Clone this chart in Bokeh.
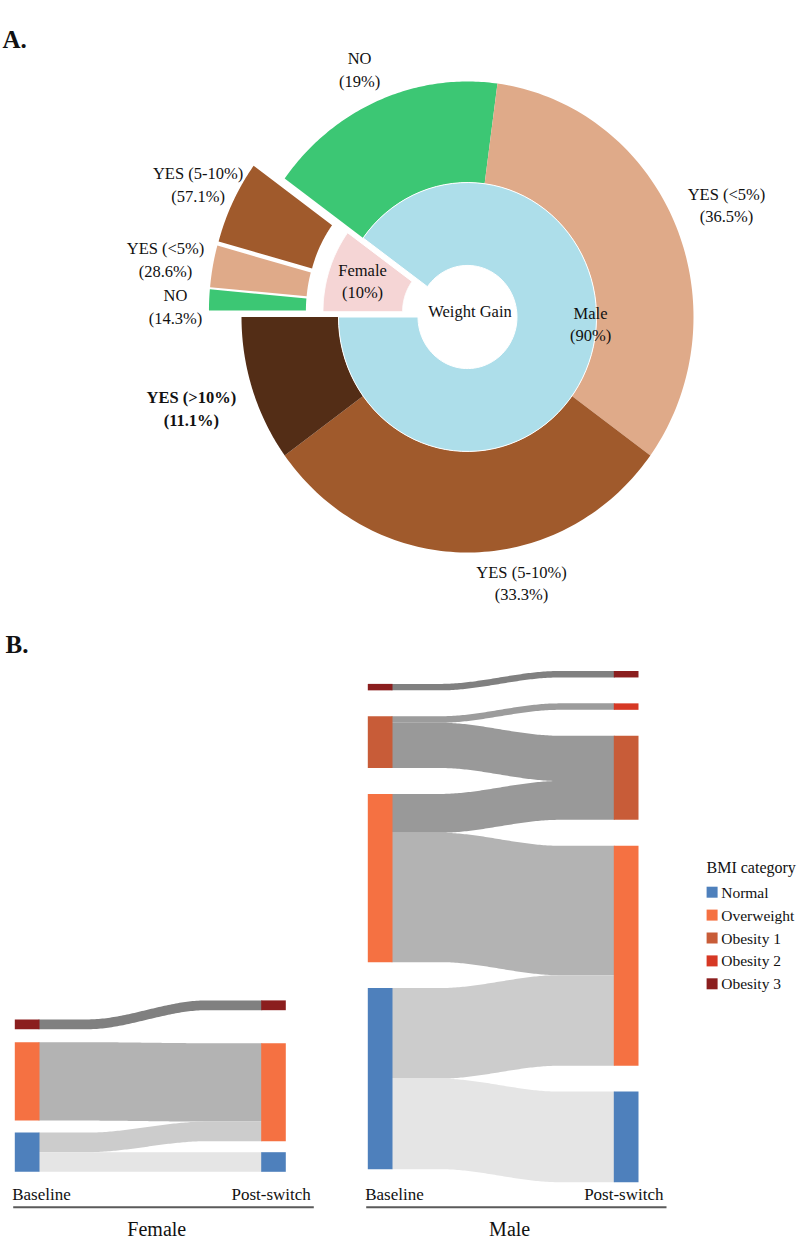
import numpy as np
from bokeh.plotting import figure
from bokeh.models import Range1d
from bokeh.core.properties import value
from bokeh.embed import file_html
from bokeh.resources import INLINE

# ===================== DATA =====================
# Panel A: weight gain by sex (nested donut)
sex_groups = ["Female", "Male"]
sex_pct = [10, 90]
center_label = "Weight Gain"

female_gain_cat = ["NO", "YES (<5%)", "YES (5-10%)"]
female_gain_pct = [14.3, 28.6, 57.1]
male_gain_cat = ["NO", "YES (<5%)", "YES (5-10%)", "YES (>10%)"]
male_gain_pct = [19.0, 36.5, 33.3, 11.1]

# Panel B: BMI category baseline -> post-switch (alluvial)
bmi_levels = ["Normal", "Overweight", "Obesity 1", "Obesity 2", "Obesity 3"]
stage_labels = ["Baseline", "Post-switch"]

female_from = ["Obesity 3", "Overweight", "Normal", "Normal"]
female_to = ["Obesity 3", "Overweight", "Overweight", "Normal"]
female_n = [1, 8, 2, 2]

male_from = ["Obesity 3", "Obesity 1", "Obesity 1", "Overweight", "Overweight", "Normal", "Normal"]
male_to = ["Obesity 3", "Obesity 2", "Obesity 1", "Obesity 1", "Overweight", "Overweight", "Normal"]
male_n = [1, 1, 7, 6, 20, 14, 14]

# ===================== STYLE / LAYOUT =====================
FONT = "Liberation Serif"
TXT = "#111111"
W, H = 797, 1238

GAIN_COLORS = {"NO": "#3cc774", "YES (<5%)": "#dfaa89",
               "YES (5-10%)": "#a05a2c", "YES (>10%)": "#532d16"}
SEX_COLORS = {"Female": "#f5d5d5", "Male": "#addeea"}
BMI_COLORS = {"Normal": "#4e80bc", "Overweight": "#f57142", "Obesity 1": "#c85c38",
              "Obesity 2": "#d63824", "Obesity 3": "#8b1e1e"}
FLOW_COLORS = {("Obesity 3", "Obesity 3"): "#808080",
               ("Obesity 1", "Obesity 2"): "#9c9c9c",
               ("Obesity 1", "Obesity 1"): "#999999",
               ("Overweight", "Obesity 1"): "#999999",
               ("Overweight", "Overweight"): "#b3b3b3",
               ("Normal", "Overweight"): "#cccccc",
               ("Normal", "Normal"): "#e5e5e5"}

# donut geometry (px)
CX, CY = 467.0, 316.5
SX, SY = 226.0, 235.5
R_HOLE, R_MID, R_OUT = 0.219, 0.571, 1.0
START_ANGLE = 180.0
EXPLODE_INNER = 0.072
EXPLODE_GROUP = 0.08
EXPLODE_SLICE = 0.068
LABEL_R = 1.16
INNER_LABEL_R = 0.4165
LINE_SP = 22.5
LBL_SIZE = 16.5
FEMALE_NUDGE = [(2.4, 8.7), (-11.7, 0.5), (-2.2, -0.6)]
MALE_NUDGE = [(-4.7, 4.1), (18.0, -3.9), (54.0, -6.7), (-26.8, 7.5)]
SEX_NUDGE = [(0.0, 0.0), (33.5, -22.8)]

p = figure(width=W, height=H, x_range=Range1d(0, W), y_range=Range1d(H, 0),
           output_backend="svg", toolbar_location=None,
           x_axis_type=None, y_axis_type=None, min_border=0)
p.outline_line_color = None
p.background_fill_color = "white"
p.border_fill_color = "white"
p.grid.visible = False


def put_text(x, y, s, size=16, bold=False, align="center"):
    lines = s.split("\n")
    n = len(lines)
    ys = [y + (i - (n - 1) / 2) * LINE_SP for i in range(n)]
    p.text(x=[x] * n, y=ys, text=lines, text_font=value(FONT),
           text_font_size=f"{size}px", text_font_style="bold" if bold else "normal",
           text_align=align, text_baseline="middle", text_color=TXT)


def offset(d, ang):
    a = np.radians(ang)
    return SX * d * np.cos(a), -SY * d * np.sin(a)


def wedge(a0, a1, r0, r1, ox=0.0, oy=0.0):
    t = np.radians(np.linspace(a0, a1, 90))
    xo = CX + ox + SX * r1 * np.cos(t)
    yo = CY + oy - SY * r1 * np.sin(t)
    xi = CX + ox + SX * r0 * np.cos(t[::-1])
    yi = CY + oy - SY * r0 * np.sin(t[::-1])
    return list(np.concatenate([xo, xi])), list(np.concatenate([yo, yi]))


# ---- Panel A ----
tot_sex = float(sum(sex_pct))
sex_spans = []
a = START_ANGLE
for g, v in zip(sex_groups, sex_pct):
    span = 360.0 * v / tot_sex
    sex_spans.append((a, a - span))
    a -= span

# outer ring
out_xs, out_ys, out_col = [], [], []
label_items = []
for gi, (cats, pcts, nudges) in enumerate([(female_gain_cat, female_gain_pct, FEMALE_NUDGE),
                                          (male_gain_cat, male_gain_pct, MALE_NUDGE)]):
    g0, g1 = sex_spans[gi]
    gmid = (g0 + g1) / 2
    tot = float(sum(pcts))
    a = g0
    for c, v, nd in zip(cats, pcts, nudges):
        span = (g0 - g1) * v / tot
        b0, b1 = a, a - span
        mid = (b0 + b1) / 2
        ox, oy = 0.0, 0.0
        if sex_groups[gi] == "Female":
            gx, gy = offset(EXPLODE_GROUP, gmid)
            sx_, sy_ = offset(EXPLODE_SLICE, mid)
            ox, oy = gx + sx_, gy + sy_
        xs, ys = wedge(b1, b0, R_MID, R_OUT, ox, oy)
        out_xs.append(xs); out_ys.append(ys); out_col.append(GAIN_COLORS[c])
        lx = CX + ox + LABEL_R * SX * np.cos(np.radians(mid)) + nd[0]
        ly = CY + oy - LABEL_R * SY * np.sin(np.radians(mid)) + nd[1]
        label_items.append((lx, ly, f"{c}\n({v:g}%)", c == "YES (>10%)"))
        a = b1
p.patches(out_xs, out_ys, fill_color=out_col, line_color=None)

# inner ring
in_xs, in_ys, in_col = [], [], []
for gi, g in enumerate(sex_groups):
    g0, g1 = sex_spans[gi]
    gmid = (g0 + g1) / 2
    ox, oy = offset(EXPLODE_INNER, gmid) if g == "Female" else (0.0, 0.0)
    xs, ys = wedge(g1, g0, R_HOLE, R_MID, ox, oy)
    in_xs.append(xs); in_ys.append(ys); in_col.append(SEX_COLORS[g])
    lx = CX + ox + INNER_LABEL_R * SX * np.cos(np.radians(gmid)) + SEX_NUDGE[gi][0]
    ly = CY + oy - INNER_LABEL_R * SY * np.sin(np.radians(gmid)) + SEX_NUDGE[gi][1]
    label_items.append((lx, ly, f"{g}\n({sex_pct[gi]:g}%)", False))
p.patches(in_xs, in_ys, fill_color=in_col, line_color="white", line_width=1)

for lx, ly, s, bold in label_items:
    put_text(lx, ly, s, LBL_SIZE, bold)
put_text(CX + 2.5, CY - 5.5, center_label, LBL_SIZE)

put_text(2, 38.5, "A.", 25, bold=True, align="left")
put_text(5, 643.5, "B.", 25, bold=True, align="left")

# ---- Panel B ----
STACK_ORDER = ["Obesity 3", "Obesity 2", "Obesity 1", "Overweight", "Normal"]
ORDER = {c: i for i, c in enumerate(STACK_ORDER)}

PANELS = [
    dict(name="Female", src=female_from, dst=female_to, n=female_n, unit=9.8,
         bars=((14.3, 39.0), (260.7, 285.3)), bottoms=(1171.3, 1171.3),
         gaps=([13.0, 12.0], [33.0, 11.0])),
    dict(name="Male", src=male_from, dst=male_to, n=male_n, unit=6.47,
         bars=((367.3, 392.0), (613.3, 638.0)), bottoms=(1168.7, 1181.7),
         gaps=([25.9] * 3, [25.9] * 4)),
]


def column_layout(counts, bottom, gaps, unit):
    present = [c for c in STACK_ORDER if counts.get(c, 0) > 0]
    pos = {}
    y = bottom
    for k in range(len(present) - 1, -1, -1):
        c = present[k]
        h = counts[c] * unit
        pos[c] = [y - h, y]
        y -= h
        if k > 0:
            y -= gaps[k - 1]
    return pos


def smooth(u, a=0.22, b=0.75):
    t = np.clip((u - a) / (b - a), 0, 1)
    return t * t * (3 - 2 * t)


for P in PANELS:
    src, dst, n, unit = P["src"], P["dst"], P["n"], P["unit"]
    s_tot, d_tot = {}, {}
    for s, d, k in zip(src, dst, n):
        s_tot[s] = s_tot.get(s, 0) + k
        d_tot[d] = d_tot.get(d, 0) + k
    spos = column_layout(s_tot, P["bottoms"][0], P["gaps"][0], unit)
    dpos = column_layout(d_tot, P["bottoms"][1], P["gaps"][1], unit)
    idx = list(range(len(n)))
    s_cur = {c: spos[c][0] for c in spos}
    d_cur = {c: dpos[c][0] for c in dpos}
    s_sl, d_sl = {}, {}
    for i in sorted(idx, key=lambda i: (ORDER[src[i]], ORDER[dst[i]])):
        h = n[i] * unit
        s_sl[i] = (s_cur[src[i]], s_cur[src[i]] + h)
        s_cur[src[i]] += h
    for i in sorted(idx, key=lambda i: (ORDER[dst[i]], ORDER[src[i]])):
        h = n[i] * unit
        d_sl[i] = (d_cur[dst[i]], d_cur[dst[i]] + h)
        d_cur[dst[i]] += h

    (l0, l1), (r0, r1) = P["bars"]
    x0, x1 = l1, r0
    u = np.linspace(0, 1, 120)
    xs_line = x0 - 1 + (x1 - x0 + 2) * u
    fx, fy, fc = [], [], []
    for i in idx:
        st, sb = s_sl[i]
        dt, db = d_sl[i]
        f = smooth(u)
        top = st + (dt - st) * f
        bot = sb + (db - sb) * f
        fx.append(list(np.concatenate([xs_line, xs_line[::-1]])))
        fy.append(list(np.concatenate([top, bot[::-1]])))
        fc.append(FLOW_COLORS[(src[i], dst[i])])
    p.patches(fx, fy, fill_color=fc, line_color=None)

    # nodes
    for (bl, br), pos in [((l0, l1), spos), ((r0, r1), dpos)]:
        cats = list(pos.keys())
        p.quad(left=[bl] * len(cats), right=[br] * len(cats),
               top=[pos[c][0] for c in cats], bottom=[pos[c][1] for c in cats],
               fill_color=[BMI_COLORS[c] for c in cats], line_color=None)

    # stage labels, rule, panel name
    put_text(l0 - 2.6, 1194.0, stage_labels[0], 17, align="left")
    put_text(r1 + 25.0, 1194.0, stage_labels[1], 17, align="right")
    p.segment(x0=[l0 - 1.6], y0=[1206.7], x1=[r1 + 28.0], y1=[1206.7],
              line_color="#5a5a5a", line_width=2)
    put_text((l0 + r1) / 2 + 6.5, 1228.0, P["name"], 20)

# legend
LEG_X, LEG_TITLE_Y, LEG_Y0, LEG_STEP = 706.0, 866.7, 891.7, 22.9
put_text(LEG_X, LEG_TITLE_Y, "BMI category", 16, align="left")
leg_y = [LEG_Y0 + i * LEG_STEP for i in range(len(bmi_levels))]
p.rect(x=[LEG_X + 5.6] * len(bmi_levels), y=leg_y, width=11, height=11,
       fill_color=[BMI_COLORS[c] for c in bmi_levels], line_color=None)
for yy, c in zip(leg_y, bmi_levels):
    put_text(LEG_X + 14.7, yy, c, 15.5, align="left")

open("out.html", "w").write(file_html(p, INLINE, "chart"))
